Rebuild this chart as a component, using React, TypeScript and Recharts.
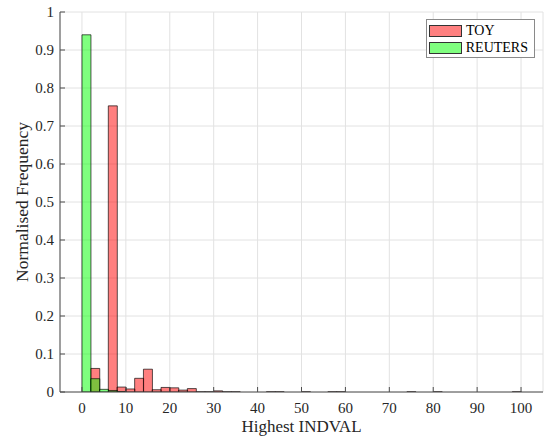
import React from 'react';
import { ComposedChart, Bar, XAxis, YAxis, CartesianGrid, Legend } from 'recharts';

const binCenters = [
  1, 3, 5, 7, 9, 11, 13, 15, 17, 19, 21, 23, 25, 27, 29, 31, 33, 35, 37, 39,
  41, 43, 45, 47, 49, 51, 53, 55, 57, 59, 61, 63, 65, 67, 69, 71, 73, 75, 77, 79,
  81, 83, 85, 87, 89, 91, 93, 95, 97, 99,
];
const toyValues = [
  0, 0.062, 0, 0.753, 0.013, 0.008, 0.036, 0.06, 0.006, 0.012,
  0.011, 0.005, 0.009, 0.0005, 0.0005, 0.003, 0.0005, 0.0005, 0, 0,
  0, 0.0005, 0.0005, 0, 0, 0.0005, 0, 0, 0.0005, 0.0005,
  0, 0, 0, 0, 0, 0, 0, 0.0005, 0, 0,
  0.0005, 0, 0, 0, 0, 0, 0, 0, 0, 0.0005,
];
const reutersValues = [
  0.94, 0.035, 0.007, 0.004, 0.001, 0, 0, 0, 0, 0,
  0, 0, 0, 0, 0, 0, 0, 0, 0, 0,
  0, 0, 0, 0, 0, 0, 0, 0, 0, 0,
  0, 0, 0, 0, 0, 0, 0, 0, 0, 0,
  0, 0, 0, 0, 0, 0, 0, 0, 0, 0,
];
const xTicks = [0, 10, 20, 30, 40, 50, 60, 70, 80, 90, 100];
const yTicks = [0, 0.1, 0.2, 0.3, 0.4, 0.5, 0.6, 0.7, 0.8, 0.9, 1];
const seriesNames = ['TOY', 'REUTERS'];
const xLabel = 'Highest INDVAL';
const yLabel = 'Normalised Frequency';

const data = binCenters.map((x, i) => ({ x, toy: toyValues[i], reuters: reutersValues[i] }));

const FONT = "'Liberation Serif', 'Times New Roman', serif";
const AXIS = '#4d4d4d';
const TEXT = '#262626';
const TICK_LEN = 5;

const textStyle = (size: number) => ({ fontFamily: FONT, fontSize: size, fill: TEXT });

const BottomTick = (p: any) => (
  <g>
    <line x1={p.x} y1={p.y} x2={p.x} y2={p.y - TICK_LEN} stroke={AXIS} strokeWidth={1} />
    <text x={p.x} y={p.y + 21} textAnchor="middle" style={textStyle(15)}>
      {String(p.payload.value)}
    </text>
  </g>
);
const TopTick = (p: any) => (
  <line x1={p.x} y1={p.y} x2={p.x} y2={p.y + TICK_LEN} stroke={AXIS} strokeWidth={1} />
);
const LeftTick = (p: any) => (
  <g>
    <line x1={p.x} y1={p.y} x2={p.x + TICK_LEN} y2={p.y} stroke={AXIS} strokeWidth={1} />
    <text x={p.x - 6} y={p.y + 5} textAnchor="end" style={textStyle(15)}>
      {String(p.payload.value)}
    </text>
  </g>
);
const RightTick = (p: any) => (
  <line x1={p.x} y1={p.y} x2={p.x - TICK_LEN} y2={p.y} stroke={AXIS} strokeWidth={1} />
);

const YLabel = (p: any) => {
  const vb = p.viewBox || { x: 0, y: 12, width: 60, height: 380 };
  const cx = 28;
  const cy = vb.y + vb.height / 2;
  return (
    <text
      x={cx}
      y={cy}
      transform={`rotate(-90 ${cx} ${cy})`}
      textAnchor="middle"
      style={textStyle(17.5)}
    >
      {yLabel}
    </text>
  );
};

const XLabel = (p: any) => {
  const vb = p.viewBox || { x: 60, y: 392, width: 483, height: 44 };
  return (
    <text x={vb.x + vb.width / 2} y={432} textAnchor="middle" style={textStyle(17)}>
      {xLabel}
    </text>
  );
};

const swatchColors: Record<string, string> = { TOY: '#ff8080', REUTERS: '#80ff80' };

const LegendBox = (props: any) => {
  const payload = [...(props.payload || [])].sort(
    (a: any, b: any) => seriesNames.indexOf(a.value) - seriesNames.indexOf(b.value)
  );
  return (
    <div
      style={{
        border: '1px solid #8a8a8a',
        background: '#fff',
        padding: '2px 6px 2px 2px',
        fontFamily: FONT,
        fontSize: 14,
        color: '#000',
        boxSizing: 'border-box',
        width: 109,
        height: 39,
      }}
    >
      {payload.map((e: any) => (
        <div key={e.value} style={{ display: 'flex', alignItems: 'center', height: 17 }}>
          <span
            style={{
              display: 'inline-block',
              width: 33,
              height: 12,
              boxSizing: 'border-box',
              background: swatchColors[e.value] || e.color,
              border: '1px solid #333',
              marginRight: 4,
            }}
          />
          <span style={{ lineHeight: '17px' }}>{e.value}</span>
        </div>
      ))}
    </div>
  );
};

export default function App() {
  return (
    <div style={{ width: 551, height: 436, background: '#fff' }}>
      <style>{'body{margin:0;background:#fff}'}</style>
      <ComposedChart
        width={551}
        height={436}
        data={data}
        margin={{ top: 12, right: 8, bottom: 0, left: 0 }}
        barCategoryGap={0}
        barGap={0}
      >
        <CartesianGrid xAxisId="bottom" yAxisId="left" stroke="#e2e2e2" strokeWidth={1} />
        <XAxis
          xAxisId="bottom"
          dataKey="x"
          type="number"
          domain={[-5, 105]}
          ticks={xTicks}
          allowDataOverflow
          height={44}
          tickSize={0}
          tickMargin={0}
          tickLine={false}
          axisLine={{ stroke: AXIS }}
          tick={BottomTick}
          interval={0}
          label={<XLabel />}
        />
        <XAxis
          xAxisId="top"
          dataKey="x"
          type="number"
          orientation="top"
          domain={[-5, 105]}
          ticks={xTicks}
          allowDataOverflow
          height={0}
          tickSize={0}
          tickMargin={0}
          tickLine={false}
          axisLine={{ stroke: AXIS }}
          tick={TopTick}
          interval={0}
        />
        <YAxis
          yAxisId="left"
          type="number"
          domain={[0, 1]}
          ticks={yTicks}
          allowDataOverflow
          width={60}
          tickSize={0}
          tickMargin={0}
          tickLine={false}
          axisLine={{ stroke: AXIS }}
          tick={LeftTick}
          interval={0}
          label={<YLabel />}
        />
        <YAxis
          yAxisId="right"
          orientation="right"
          type="number"
          domain={[0, 1]}
          ticks={yTicks}
          allowDataOverflow
          width={0}
          tickSize={0}
          tickMargin={0}
          tickLine={false}
          axisLine={{ stroke: AXIS }}
          tick={RightTick}
          interval={0}
        />
        <Bar
          xAxisId="bottom"
          yAxisId="left"
          dataKey="toy"
          name={seriesNames[0]}
          fill="#ff0000"
          fillOpacity={0.5}
          stroke="#000"
          strokeOpacity={0.65}
          strokeWidth={1}
          isAnimationActive={false}
        />
        <Bar
          xAxisId="top"
          yAxisId="left"
          dataKey="reuters"
          name={seriesNames[1]}
          fill="#00ff00"
          fillOpacity={0.5}
          stroke="#000"
          strokeOpacity={0.65}
          strokeWidth={1}
          isAnimationActive={false}
        />
        <Legend
          layout="vertical"
          align="center"
          verticalAlign="middle"
          content={<LegendBox />}
          wrapperStyle={{ position: 'absolute', top: 19, left: 426, width: 109, height: 39 }}
        />
      </ComposedChart>
    </div>
  );
}
